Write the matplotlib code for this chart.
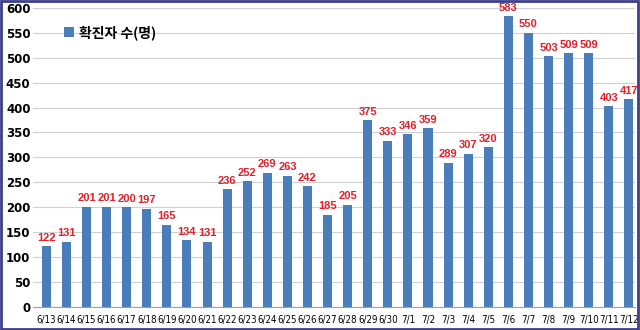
import matplotlib.pyplot as plt
from matplotlib.patches import Rectangle

plt.rcParams['font.family'] = ['Noto Sans CJK KR', 'DejaVu Sans']

dates = ['6/13', '6/14', '6/15', '6/16', '6/17', '6/18', '6/19', '6/20', '6/21', '6/22',
         '6/23', '6/24', '6/25', '6/26', '6/27', '6/28', '6/29', '6/30', '7/1', '7/2',
         '7/3', '7/4', '7/5', '7/6', '7/7', '7/8', '7/9', '7/10', '7/11', '7/12']
cases = [122, 131, 201, 201, 200, 197, 165, 134, 131, 236,
         252, 269, 263, 242, 185, 205, 375, 333, 346, 359,
         289, 307, 320, 583, 550, 503, 509, 509, 403, 417]

fig = plt.figure(figsize=(6.4, 3.3), dpi=100)
ax = fig.add_axes([0.052, 0.07, 0.94, 0.906])

x = range(len(dates))
bars = ax.bar(x, cases, width=0.45, color='#4a7ebb', label='확진자 수(명)', zorder=3)

for xi, v in zip(x, cases):
    ax.text(xi, v + 7, str(v), ha='center', va='bottom', color='#e0202a',
            fontsize=8, fontweight='bold', family=['Liberation Sans', 'DejaVu Sans'])

ax.set_xlim(-0.65, 29.3)
ax.set_ylim(0, 600)
ax.set_yticks(range(0, 601, 50))
ax.set_xticks(list(x))
ax.set_xticklabels(dates, fontsize=7, family='DejaVu Sans', fontstretch='condensed')
for lbl in ax.get_yticklabels():
    lbl.set_fontweight('bold')
    lbl.set_fontsize(8.5)
    lbl.set_family('DejaVu Sans')

ax.grid(axis='y', color='#d0d0d0', linewidth=0.8, zorder=0)
for s in ['top', 'right', 'left']:
    ax.spines[s].set_visible(False)
ax.spines['bottom'].set_color('#a0a0a0')
ax.tick_params(axis='both', length=0, pad=2)
ax.tick_params(axis='x', pad=6)

ax.legend(loc='upper left', bbox_to_anchor=(0.03, 0.985), frameon=False,
          handlelength=0.7, handleheight=0.7, handletextpad=0.4,
          prop={'weight': 'bold', 'size': 10})

fig.patches.append(Rectangle((0.002, 0.003), 0.995, 0.993, transform=fig.transFigure,
                             fill=False, edgecolor='#3b3f8c', linewidth=2))

fig.savefig('out.png', dpi=100)
